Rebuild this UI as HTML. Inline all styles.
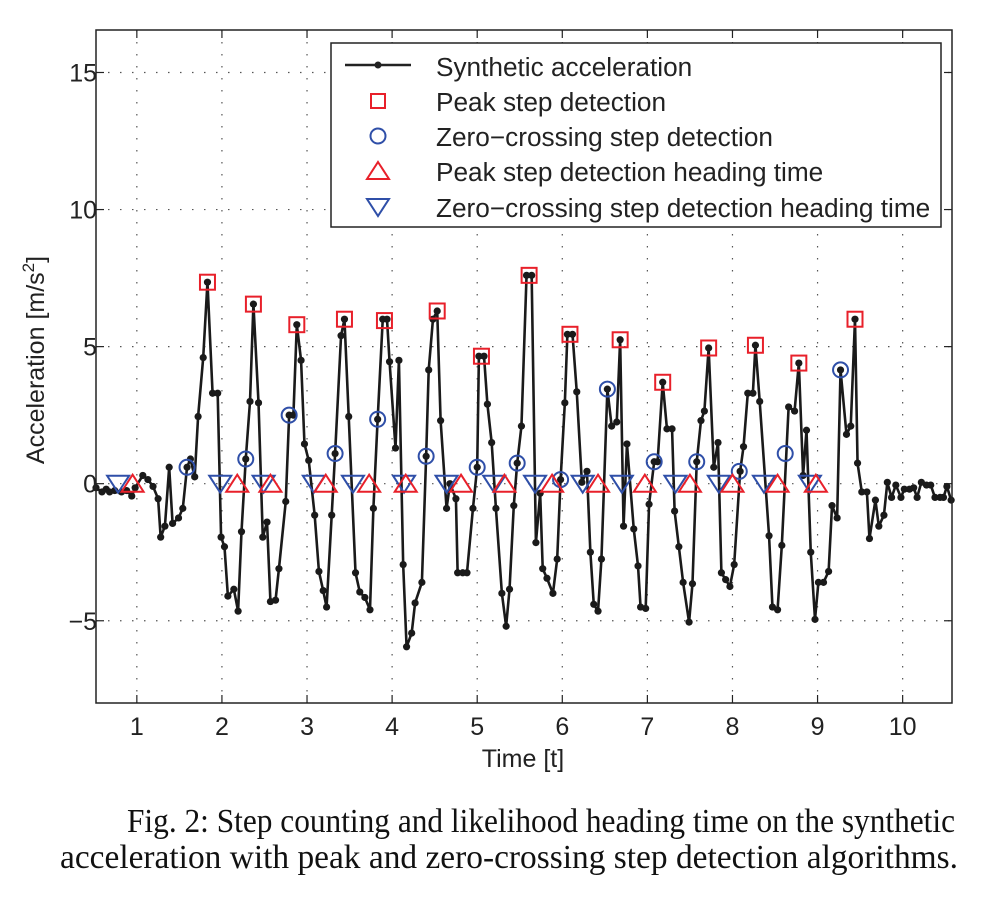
<!DOCTYPE html>
<html><head><meta charset="utf-8"><style>
body{margin:0;background:#fff;width:985px;height:900px;overflow:hidden}
svg text{font-family:"Liberation Sans",Arial,sans-serif;fill:#222}
.cap{font-family:"Liberation Serif","Times New Roman",serif;font-size:33.5px;fill:#111}
</style></head><body>
<svg id="chart" width="985" height="900" xmlns="http://www.w3.org/2000/svg">
<g id="grid"></g>
<g id="series"></g>
<g id="axes"></g>
<text x="523" y="767" font-size="25" text-anchor="middle">Time [t]</text>
<text transform="translate(44,360) rotate(-90)" font-size="25" text-anchor="middle">Acceleration [m/s<tspan font-size="17" dy="-10">2</tspan><tspan dy="10">]</tspan></text>
<g>
<rect x="331" y="43" width="610" height="184" fill="#fff" stroke="#222" stroke-width="1.5"/>
<g><line x1="345" y1="65" x2="411" y2="65" stroke="#222" stroke-width="2.5"/><circle cx="378" cy="65" r="3.5" fill="#222"/><text x="436" y="76" font-size="26.2">Synthetic acceleration</text></g>
<g><rect x="371" y="94" width="14" height="14" fill="none" stroke="#e8202a" stroke-width="2"/><text x="436" y="111" font-size="26.2">Peak step detection</text></g>
<g><circle cx="378" cy="136" r="7.5" fill="none" stroke="#2f4fa8" stroke-width="2"/><text x="436" y="146" font-size="26.2">Zero−crossing step detection</text></g>
<g><polygon points="378,162 389,179 367,179" fill="none" stroke="#e8202a" stroke-width="2"/><text x="436" y="181" font-size="26.2">Peak step detection heading time</text></g>
<g><polygon points="367,199 389,199 378,216" fill="none" stroke="#2f4fa8" stroke-width="2"/><text x="436" y="217" font-size="26.2">Zero−crossing step detection heading time</text></g>
</g>
<text class="cap" x="127" y="832" textLength="828" lengthAdjust="spacingAndGlyphs">Fig. 2: Step counting and likelihood heading time on the synthetic</text>
<text class="cap" x="60" y="868" textLength="898" lengthAdjust="spacingAndGlyphs">acceleration with peak and zero-crossing step detection algorithms.</text>
</svg>
<script>
const accT=[.52,.59,.64,.68,.74,.82,.88,.94,.98,1.07,1.13,1.19,1.25,1.28,1.33,1.38,1.42,1.49,1.54,1.59,1.63,1.68,1.72,1.78,1.83,1.89,1.95,1.99,2.03,2.07,2.14,2.19,2.23,2.28,2.33,2.37,2.43,2.48,2.53,2.57,2.63,2.67,2.75,2.79,2.84,2.88,2.93,2.97,3.02,3.09,3.14,3.19,3.23,3.29,3.33,3.40,3.44,3.49,3.57,3.62,3.68,3.74,3.78,3.83,3.89,3.94,3.97,4.04,4.08,4.13,4.17,4.23,4.27,4.35,4.40,4.43,4.48,4.53,4.57,4.64,4.68,4.75,4.77,4.83,4.88,4.95,5.0,5.02,5.08,5.12,5.17,5.22,5.29,5.34,5.38,5.43,5.47,5.52,5.58,5.64,5.69,5.74,5.77,5.82,5.89,5.94,5.98,6.03,6.06,6.12,6.17,6.23,6.29,6.33,6.37,6.42,6.46,6.53,6.58,6.64,6.68,6.72,6.76,6.84,6.89,6.92,6.98,7.02,7.08,7.12,7.18,7.23,7.29,7.32,7.37,7.42,7.49,7.53,7.58,7.63,7.67,7.72,7.78,7.83,7.87,7.92,7.97,8.02,8.09,8.13,8.18,8.24,8.27,8.32,8.43,8.47,8.53,8.58,8.66,8.73,8.78,8.83,8.87,8.92,8.97,9.01,9.07,9.13,9.17,9.23,9.27,9.34,9.39,9.44,9.47,9.52,9.58,9.61,9.68,9.72,9.78,9.82,9.87,9.92,9.98,10.02,10.08,10.13,10.17,10.22,10.28,10.33,10.38,10.44,10.48,10.52,10.57];
const accV=[-.15,-.3,-.2,-.3,-.25,-.3,-.25,-.45,-.15,.3,.15,-.1,-.55,-1.95,-1.55,.6,-1.45,-1.25,-.9,.6,.9,.25,2.45,4.6,7.35,3.3,3.3,-1.95,-2.3,-4.1,-3.85,-4.65,-1.75,.9,3.0,6.55,2.95,-1.95,-1.4,-4.3,-4.25,-3.1,-.65,2.5,2.5,5.8,4.5,1.45,.85,-1.15,-3.2,-3.9,-4.5,-1.15,1.1,5.4,6.0,2.45,-3.25,-3.95,-4.15,-4.6,-.9,2.35,6.0,6.0,4.45,1.3,4.5,-2.95,-5.95,-5.45,-4.35,-3.6,1.0,4.15,6.0,6.3,2.3,-.9,0,-.55,-3.25,-3.25,-3.25,-.9,.6,4.65,4.65,2.9,1.5,-.9,-4.0,-5.2,-3.85,-.8,.75,2.1,7.6,7.6,-2.15,-.35,-3.1,-3.45,-4.0,-2.75,.15,2.95,5.45,5.45,3.35,.05,.45,-2.5,-4.4,-4.65,-2.75,3.45,2.1,2.25,5.25,-1.55,1.45,-1.65,-3.0,-4.5,-4.55,-.75,.8,.8,3.7,2.0,2.0,-1.0,-2.3,-3.6,-5.05,-3.65,.8,2.3,2.65,4.95,.6,1.5,-3.25,-3.5,-3.75,-2.95,.45,1.35,3.3,3.3,5.05,3.0,-1.9,-4.5,-4.6,-2.25,2.8,2.65,4.4,.3,1.95,-2.5,-4.95,-3.6,-3.6,-3.2,-.8,-1.25,4.15,1.8,2.1,6.0,.75,-.3,-.3,-2.0,-.6,-1.55,-1.15,.05,-.5,-.05,-.5,-.2,-.2,-.15,-.5,.05,-.05,-.05,-.5,-.5,-.5,-.1,-.6];
const peakT=[1.83,2.37,2.88,3.44,3.91,4.53,5.05,5.61,6.09,6.68,7.18,7.72,8.27,8.78,9.44];
const peakV=[7.35,6.55,5.8,6.0,5.95,6.3,4.65,7.6,5.45,5.25,3.7,4.95,5.05,4.4,6.0];
const zcT=[1.59,2.28,2.79,3.33,3.83,4.40,5.0,5.47,5.98,6.53,7.08,7.58,8.08,8.62,9.27];
const zcV=[.6,.9,2.5,1.1,2.35,1.0,.6,.75,.15,3.45,.8,.8,.45,1.1,4.15];
const peakHeadT=[.95,2.18,2.57,3.22,3.73,4.16,4.81,5.32,5.88,6.42,6.97,7.50,8.0,8.53,8.98];
const zcHeadT=[.78,1.98,2.49,3.08,3.54,4.14,4.64,5.20,5.68,6.24,6.70,7.33,7.84,8.37,8.91];
const xTicks=[1,2,3,4,5,6,7,8,9,10];
const yTicks=[-5,0,5,10,15];
const yTickLabels=["−5","0","5","10","15"];

const L=96,R=952,T=30,B=703,X0=.52,X1=10.58,Y0=-8,Y1=16.55;
const sx=t=>L+(t-X0)/(X1-X0)*(R-L);
const sy=v=>B-(v-Y0)/(Y1-Y0)*(B-T);
const NS="http://www.w3.org/2000/svg";
function mk(tag,attrs,parent){const e=document.createElementNS(NS,tag);for(const k in attrs)e.setAttribute(k,attrs[k]);parent.appendChild(e);return e;}
const grid=document.getElementById('grid'),ser=document.getElementById('series'),ax=document.getElementById('axes');
xTicks.forEach(t=>{
 const x=sx(t);
 const g=mk('line',{x1:x,x2:x,y1:T,y2:B,stroke:'#555','stroke-width':1.2,'stroke-dasharray':'1.5 10.5'},grid);
 
 
 mk('line',{x1:x,x2:x,y1:B,y2:B-8,stroke:'#222','stroke-width':1.2},ax);
 mk('line',{x1:x,x2:x,y1:T,y2:T+8,stroke:'#222','stroke-width':1.2},ax);
 const lb=mk('text',{x:x,y:B+32,'font-size':25,'text-anchor':'middle'},ax);
 lb.textContent=t;
 
 
});
yTicks.forEach((v,i)=>{
 const y=sy(v);
 const g=mk('line',{x1:L,x2:R,y1:y,y2:y,stroke:'#555','stroke-width':1.2,'stroke-dasharray':'1.5 10.5'},grid);
 
 
 mk('line',{x1:L,x2:L+8,y1:y,y2:y,stroke:'#222','stroke-width':1.2},ax);
 mk('line',{x1:R,x2:R-8,y1:y,y2:y,stroke:'#222','stroke-width':1.2},ax);
 const lb=mk('text',{x:L+1,y:y+9,'font-size':25,'text-anchor':'end'},ax);
 lb.textContent=yTickLabels[i];
 
 
});
const frame=mk('rect',{x:L,y:T,width:R-L,height:B-T,fill:'none',stroke:'#222','stroke-width':1.5},ax);


const line=mk('polyline',{points:accT.map((t,i)=>sx(t)+','+sy(accV[i])).join(' '),fill:'none',stroke:'#1a1a1a','stroke-width':2.6,'stroke-linejoin':'round'},ser);


accT.forEach((t,i)=>{
 const c=mk('circle',{cx:sx(t),cy:sy(accV[i]),r:3.6,fill:'#1a1a1a'},ser);
 
 
});
peakT.forEach((t,i)=>{
 const r=mk('rect',{x:sx(t)-7.5,y:sy(peakV[i])-7.5,width:15,height:15,fill:'none',stroke:'#e8202a','stroke-width':2},ser);
 
 
});
zcT.forEach((t,i)=>{
 const c=mk('circle',{cx:sx(t),cy:sy(zcV[i]),r:7.5,fill:'none',stroke:'#2f4fa8','stroke-width':2},ser);
 
 
});
zcHeadT.forEach(t=>{
 const x=sx(t),y=sy(0);
 const p=mk('polygon',{points:`${x-11},${y-8} ${x+11},${y-8} ${x},${y+9}`,fill:'none',stroke:'#2f4fa8','stroke-width':2},ser);
 
 
});
peakHeadT.forEach(t=>{
 const x=sx(t),y=sy(0);
 const p=mk('polygon',{points:`${x},${y-9} ${x+11},${y+8} ${x-11},${y+8}`,fill:'none',stroke:'#e8202a','stroke-width':2},ser);
 
 
});
</script>
</body></html>
